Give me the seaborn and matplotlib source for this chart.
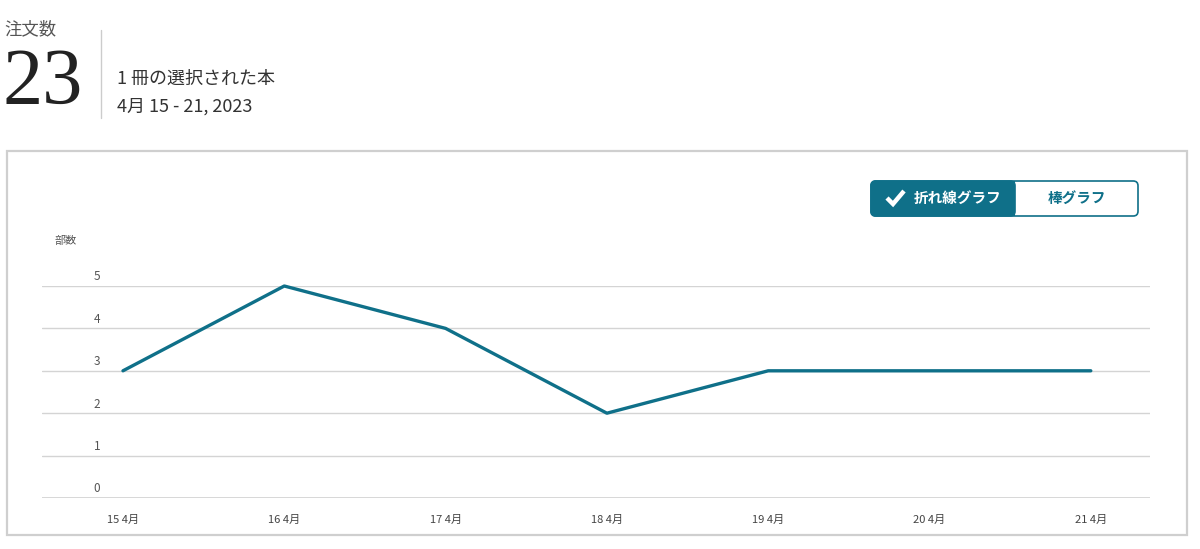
import matplotlib
matplotlib.use("Agg")
import matplotlib.pyplot as plt
from matplotlib.patches import Rectangle, FancyBboxPatch
from matplotlib.lines import Line2D
import matplotlib.transforms as mtransforms
import seaborn as sns
import pandas as pd

# ---- data ----
days = ["15 4月", "16 4月", "17 4月", "18 4月", "19 4月", "20 4月", "21 4月"]
copies = [3, 5, 4, 2, 3, 3, 3]
y_ticks = [0, 1, 2, 3, 4, 5]
total_orders = "23"
title_label = "注文数"
subtitle_1 = "1 冊の選択された本"
subtitle_2 = "4月 15 - 21, 2023"
y_label = "部数"
btn_line = "折れ線グラフ"
btn_bar = "棒グラフ"

sns.set_theme(style="white")
plt.rcParams['font.family'] = ['Noto Sans CJK JP', 'DejaVu Sans']

W, H = 1200, 549
fig = plt.figure(figsize=(W / 100, H / 100), dpi=100)
fig.patch.set_facecolor("white")

def fx(x):
    return x / W

def fy(y):
    return 1 - y / H

TEAL = "#0f7089"

# ---- header ----
fig.text(fx(4), fy(29), title_label, fontsize=12.5, color="#555555", va="center", ha="left")
fig.text(fx(3), fy(84), total_orders, fontsize=58, color="#222222", va="center", ha="left",
         family="Liberation Serif")
fig.add_artist(Line2D([fx(101), fx(101)], [fy(30), fy(118)], color="#cccccc", lw=1))
fig.text(fx(117), fy(79), subtitle_1, fontsize=13, color="#333333", va="center", ha="left")
fig.text(fx(117), fy(107), subtitle_2, fontsize=13, color="#333333", va="center", ha="left")

# ---- card ----
fig.add_artist(Rectangle((fx(7), fy(535)), fx(1187) - fx(7), fy(151) - fy(535),
                         transform=fig.transFigure, fill=False, edgecolor="#cfcfcf", lw=1.6))

# ---- toggle buttons ----
fig.add_artist(FancyBboxPatch((fx(871), fy(216)), fx(1138) - fx(871), fy(181) - fy(216),
                              boxstyle="round,pad=0,rounding_size=0.004",
                              transform=fig.transFigure, facecolor="white", edgecolor=TEAL, lw=1.2,
                              mutation_aspect=W / H))
fig.add_artist(FancyBboxPatch((fx(871), fy(216)), fx(1015) - fx(871), fy(181) - fy(216),
                              boxstyle="round,pad=0,rounding_size=0.004",
                              transform=fig.transFigure, facecolor=TEAL, edgecolor=TEAL, lw=1.2,
                              mutation_aspect=W / H))
fig.add_artist(Rectangle((fx(1000), fy(216)), fx(1015) - fx(1000), fy(181) - fy(216),
                         transform=fig.transFigure, facecolor=TEAL, edgecolor="none"))
fig.add_artist(Line2D([fx(887), fx(893), fx(904)], [fy(198), fy(204), fy(191)],
                      color="white", lw=3.2, solid_capstyle="butt", solid_joinstyle="miter"))
fig.text(fx(958), fy(198), btn_line, fontsize=10.5, color="white", va="center", ha="center",
         fontweight="bold")
fig.text(fx(1077), fy(198), btn_bar, fontsize=10.5, color=TEAL, va="center", ha="center",
         fontweight="bold")

# ---- chart ----
ax = fig.add_axes([fx(42), fy(498), fx(1150) - fx(42), fy(286) - fy(498)])
df = pd.DataFrame({"day": days, "copies": copies})
sns.lineplot(data=df, x="day", y="copies", ax=ax, color=TEAL, lw=2.4, clip_on=False)
ax.set_xlim(-0.502, 6.367)
ax.set_ylim(0, 5)
for s in ax.spines.values():
    s.set_visible(False)
ax.set_yticks(y_ticks)
ax.set_yticklabels([])
ax.tick_params(axis="y", length=0)
label_tr = mtransforms.blended_transform_factory(fig.transFigure, ax.transData) + \
    mtransforms.ScaledTranslation(0, 9 / 72 * 0.72, fig.dpi_scale_trans)
for t in y_ticks:
    ax.axhline(t, color="#d4d4d4", lw=1.3 if t == 0 else 1.0, zorder=0)
    ax.text(fx(97), t, str(t), transform=label_tr,
            fontsize=8.5, color="#555555", va="center", ha="center")
ax.set_xlabel("")
ax.set_ylabel("")
ax.tick_params(axis="x", length=0, pad=12, labelsize=8, labelcolor="#444444")
fig.text(fx(66), fy(241), y_label, fontsize=8, color="#555555", va="center", ha="center")

fig.savefig("out.png", dpi=100, facecolor="white")
